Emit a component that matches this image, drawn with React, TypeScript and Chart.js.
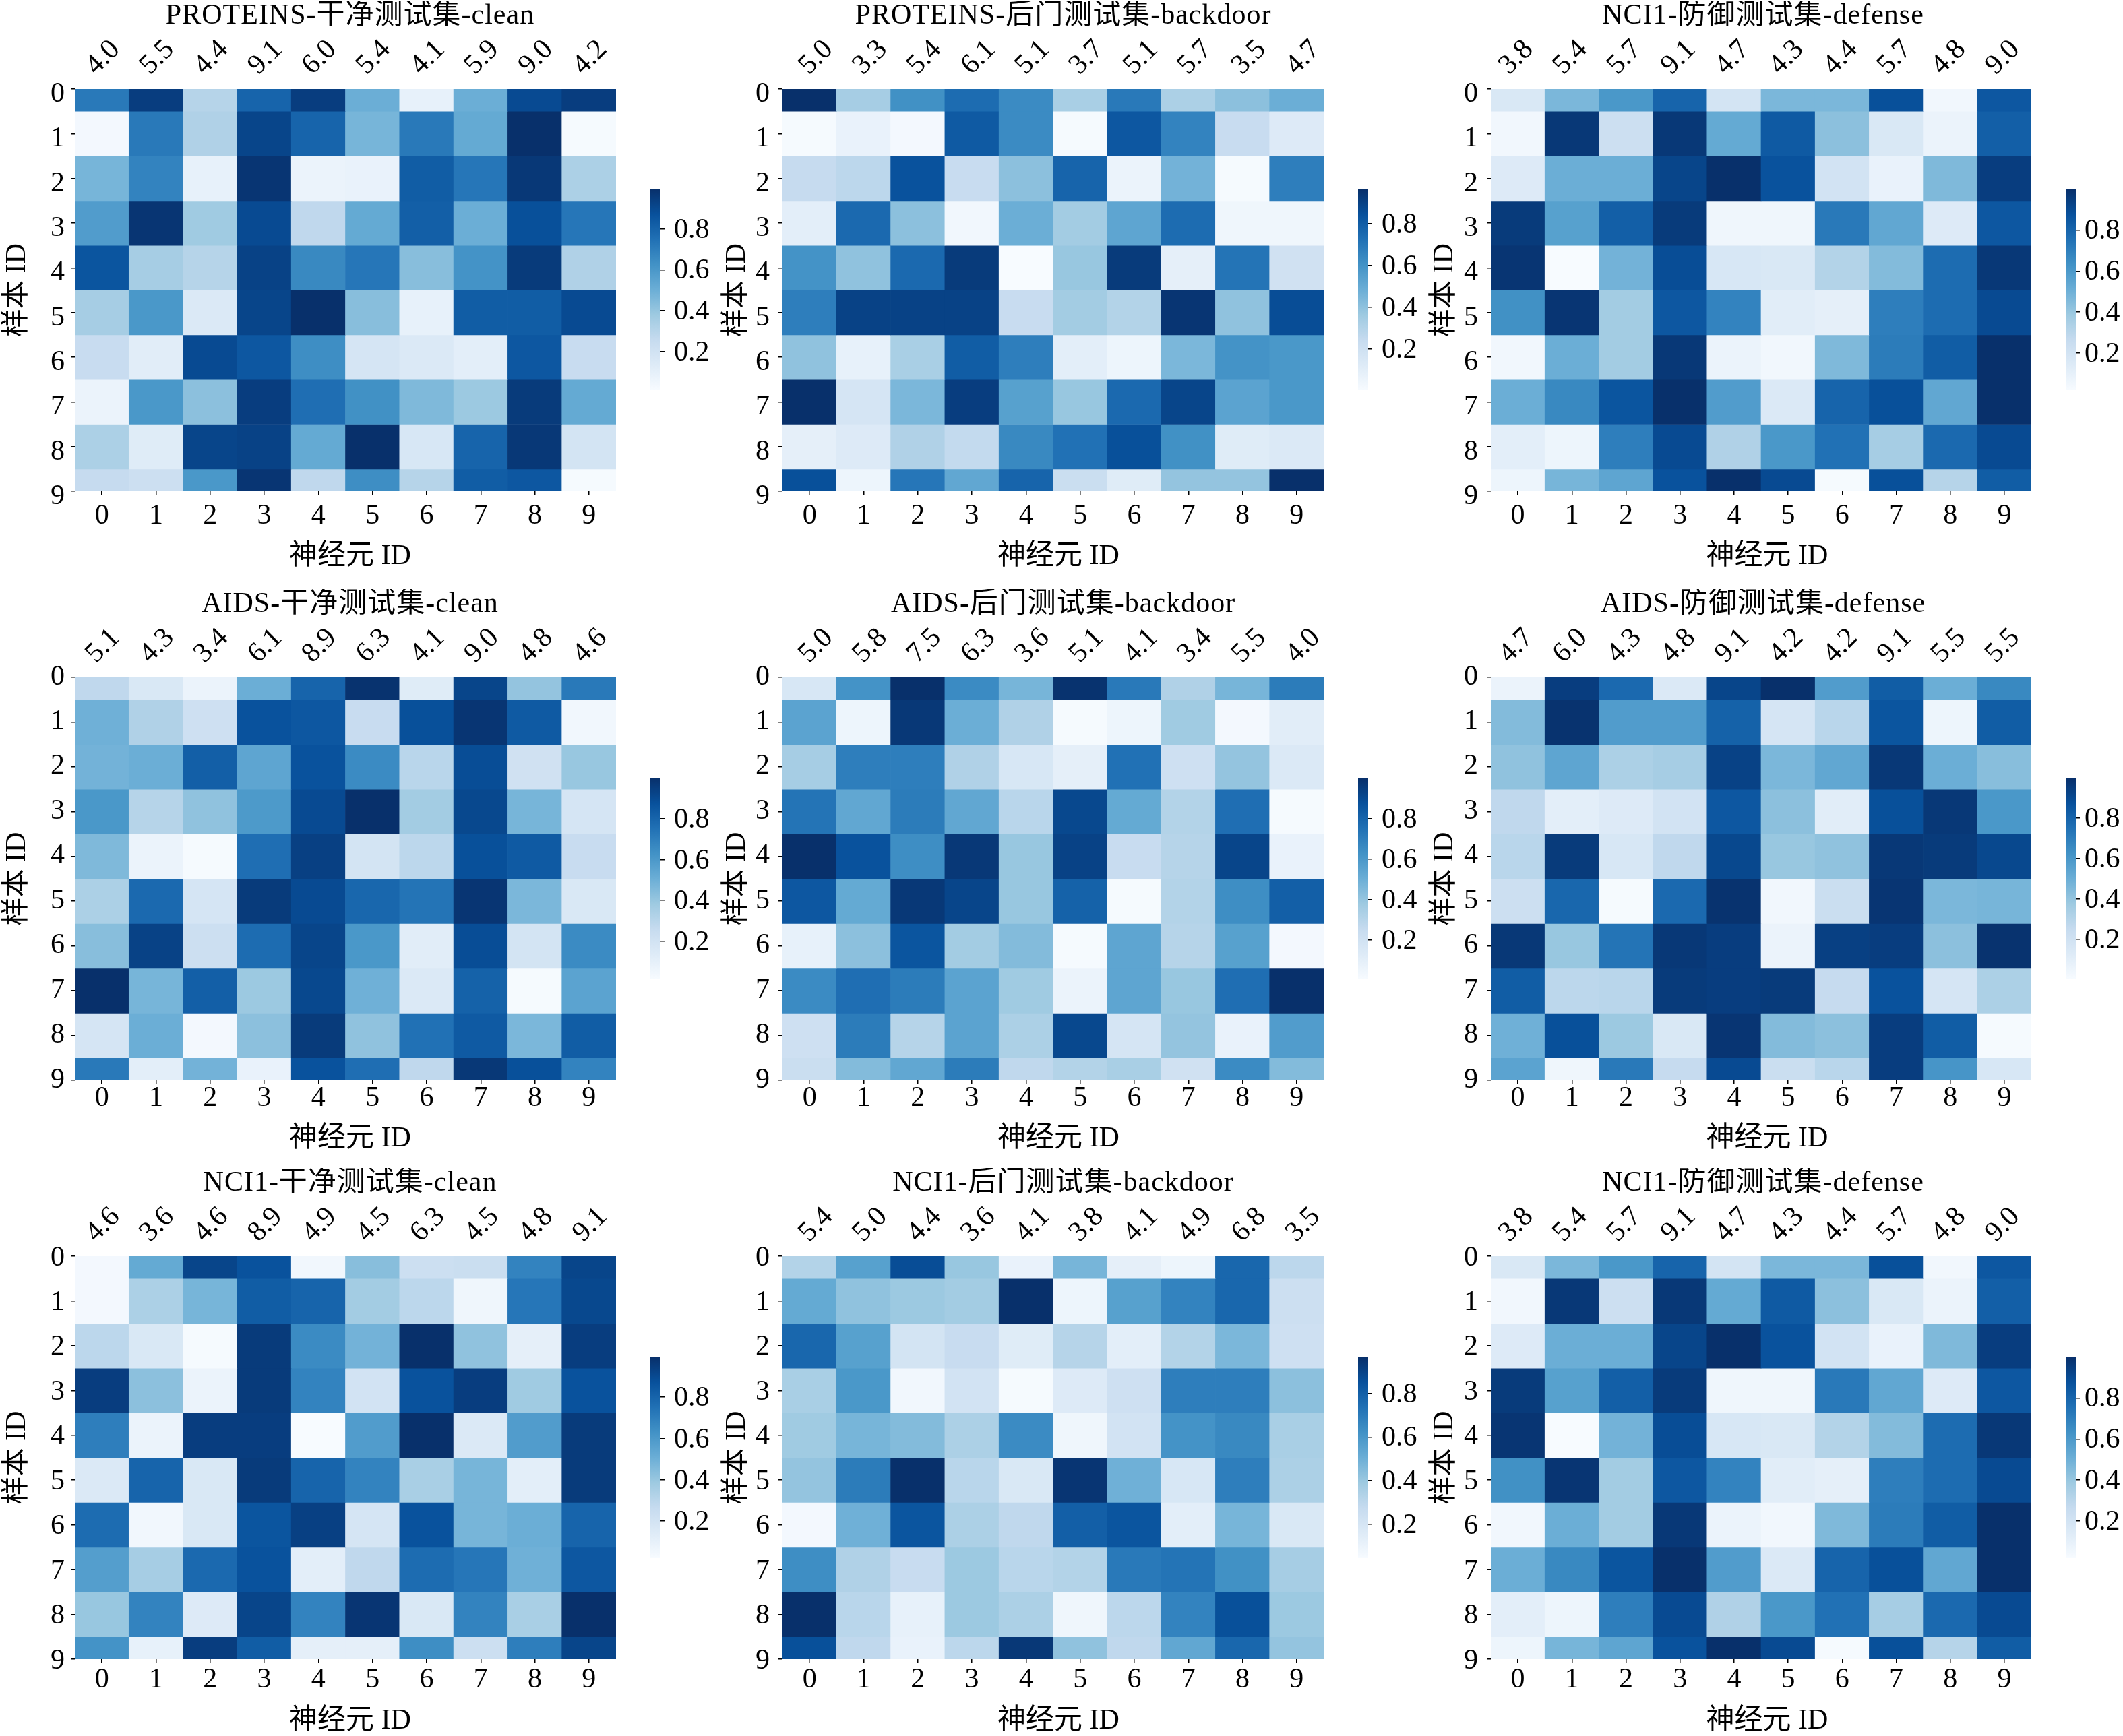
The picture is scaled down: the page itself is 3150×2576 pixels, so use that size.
import React, { useEffect, useRef } from "react";
import { Chart, registerables } from "chart.js";

Chart.register(...registerables);

const FONT = '"Liberation Serif","Noto Sans CJK SC",serif';
const BLUES = ["#f7fbff", "#deebf7", "#c6dbef", "#9ecae1", "#6baed6", "#4292c6", "#2171b5", "#08519c", "#08306b"];

const neuronIds = ["0", "1", "2", "3", "4", "5", "6", "7", "8", "9"];
const colorbarTicks = [0.2, 0.4, 0.6, 0.8];

const proteinsCleanTop = ["4.0", "5.5", "4.4", "9.1", "6.0", "5.4", "4.1", "5.9", "9.0", "4.2"];
const proteinsClean = [
  [0.72, 0.95, 0.30, 0.80, 0.95, 0.50, 0.08, 0.50, 0.90, 0.95],
  [0.02, 0.72, 0.32, 0.92, 0.80, 0.47, 0.72, 0.52, 1.00, 0.01],
  [0.47, 0.68, 0.08, 0.98, 0.06, 0.07, 0.83, 0.73, 0.97, 0.33],
  [0.58, 0.98, 0.37, 0.90, 0.27, 0.52, 0.82, 0.50, 0.88, 0.73],
  [0.86, 0.35, 0.30, 0.93, 0.66, 0.73, 0.43, 0.62, 0.96, 0.32],
  [0.35, 0.60, 0.14, 0.92, 1.00, 0.43, 0.08, 0.83, 0.83, 0.90],
  [0.24, 0.11, 0.90, 0.85, 0.64, 0.17, 0.14, 0.10, 0.85, 0.24],
  [0.06, 0.60, 0.42, 0.95, 0.76, 0.63, 0.45, 0.38, 0.96, 0.52],
  [0.33, 0.12, 0.92, 0.93, 0.52, 1.00, 0.16, 0.80, 0.97, 0.18],
  [0.25, 0.22, 0.60, 0.98, 0.27, 0.64, 0.30, 0.83, 0.85, 0.01],
];

const proteinsBackdoorTop = ["5.0", "3.3", "5.4", "6.1", "5.1", "3.7", "5.1", "5.7", "3.5", "4.7"];
const proteinsBackdoor = [
  [1.00, 0.35, 0.63, 0.77, 0.65, 0.34, 0.72, 0.33, 0.42, 0.50],
  [0.01, 0.07, 0.02, 0.84, 0.65, 0.01, 0.85, 0.68, 0.24, 0.13],
  [0.25, 0.28, 0.87, 0.24, 0.42, 0.80, 0.06, 0.48, 0.01, 0.70],
  [0.10, 0.78, 0.42, 0.03, 0.50, 0.36, 0.54, 0.77, 0.04, 0.04],
  [0.62, 0.41, 0.78, 0.96, 0.00, 0.39, 0.96, 0.09, 0.74, 0.20],
  [0.70, 0.93, 0.93, 0.93, 0.24, 0.36, 0.31, 0.98, 0.41, 0.89],
  [0.41, 0.08, 0.34, 0.83, 0.70, 0.10, 0.05, 0.46, 0.62, 0.60],
  [1.00, 0.17, 0.46, 0.95, 0.56, 0.39, 0.78, 0.92, 0.55, 0.60],
  [0.09, 0.13, 0.32, 0.26, 0.66, 0.75, 0.88, 0.63, 0.12, 0.14],
  [0.88, 0.05, 0.73, 0.53, 0.80, 0.23, 0.12, 0.40, 0.40, 1.00],
];

const nciDefenseTop = ["3.8", "5.4", "5.7", "9.1", "4.7", "4.3", "4.4", "5.7", "4.8", "9.0"];
const nciDefense = [
  [0.15, 0.46, 0.60, 0.80, 0.18, 0.46, 0.46, 0.88, 0.03, 0.85],
  [0.03, 0.97, 0.22, 0.97, 0.52, 0.84, 0.42, 0.15, 0.06, 0.82],
  [0.13, 0.50, 0.50, 0.92, 1.00, 0.87, 0.19, 0.07, 0.45, 0.95],
  [0.96, 0.56, 0.82, 0.96, 0.04, 0.04, 0.72, 0.53, 0.13, 0.85],
  [0.98, 0.00, 0.48, 0.89, 0.16, 0.15, 0.31, 0.44, 0.77, 0.97],
  [0.63, 0.98, 0.36, 0.85, 0.68, 0.11, 0.09, 0.70, 0.77, 0.90],
  [0.03, 0.50, 0.36, 0.97, 0.06, 0.03, 0.45, 0.71, 0.83, 1.00],
  [0.50, 0.66, 0.86, 1.00, 0.58, 0.14, 0.80, 0.88, 0.53, 1.00],
  [0.10, 0.05, 0.70, 0.90, 0.32, 0.60, 0.75, 0.35, 0.78, 0.90],
  [0.05, 0.47, 0.54, 0.87, 1.00, 0.90, 0.01, 0.88, 0.30, 0.83],
];

const aidsCleanTop = ["5.1", "4.3", "3.4", "6.1", "8.9", "6.3", "4.1", "9.0", "4.8", "4.6"];
const aidsClean = [
  [0.27, 0.15, 0.06, 0.50, 0.80, 0.99, 0.12, 0.92, 0.40, 0.72],
  [0.49, 0.32, 0.21, 0.87, 0.85, 0.24, 0.88, 0.98, 0.84, 0.03],
  [0.48, 0.50, 0.82, 0.54, 0.87, 0.65, 0.29, 0.89, 0.20, 0.39],
  [0.60, 0.30, 0.41, 0.59, 0.90, 1.00, 0.36, 0.91, 0.47, 0.17],
  [0.45, 0.06, 0.01, 0.76, 0.94, 0.18, 0.28, 0.88, 0.84, 0.24],
  [0.33, 0.78, 0.17, 0.96, 0.90, 0.79, 0.74, 0.98, 0.46, 0.15],
  [0.43, 0.93, 0.22, 0.77, 0.92, 0.60, 0.11, 0.89, 0.18, 0.65],
  [1.00, 0.47, 0.82, 0.38, 0.91, 0.49, 0.14, 0.81, 0.01, 0.55],
  [0.17, 0.50, 0.02, 0.42, 0.96, 0.41, 0.75, 0.84, 0.46, 0.83],
  [0.72, 0.10, 0.48, 0.07, 0.87, 0.76, 0.27, 0.97, 0.88, 0.68],
];

const aidsBackdoorTop = ["5.0", "5.8", "7.5", "6.3", "3.6", "5.1", "4.1", "3.4", "5.5", "4.0"];
const aidsBackdoor = [
  [0.16, 0.62, 1.00, 0.65, 0.47, 0.99, 0.72, 0.32, 0.47, 0.71],
  [0.55, 0.05, 0.97, 0.50, 0.32, 0.01, 0.05, 0.37, 0.02, 0.11],
  [0.35, 0.70, 0.70, 0.32, 0.16, 0.09, 0.75, 0.21, 0.40, 0.14],
  [0.74, 0.53, 0.71, 0.53, 0.29, 0.91, 0.52, 0.31, 0.76, 0.01],
  [1.00, 0.87, 0.64, 0.97, 0.39, 0.93, 0.24, 0.30, 0.92, 0.07],
  [0.85, 0.52, 0.97, 0.92, 0.39, 0.81, 0.01, 0.31, 0.64, 0.82],
  [0.08, 0.42, 0.86, 0.36, 0.44, 0.01, 0.54, 0.30, 0.56, 0.02],
  [0.65, 0.76, 0.71, 0.55, 0.37, 0.06, 0.54, 0.39, 0.76, 1.00],
  [0.21, 0.71, 0.30, 0.55, 0.33, 0.91, 0.17, 0.40, 0.07, 0.58],
  [0.23, 0.44, 0.53, 0.71, 0.27, 0.31, 0.34, 0.20, 0.65, 0.44],
];

const aidsDefenseTop = ["4.7", "6.0", "4.3", "4.8", "9.1", "4.2", "4.2", "9.1", "5.5", "5.5"];
const aidsDefense = [
  [0.06, 0.95, 0.78, 0.14, 0.92, 1.00, 0.58, 0.83, 0.50, 0.66],
  [0.44, 0.99, 0.58, 0.58, 0.81, 0.17, 0.29, 0.86, 0.05, 0.83],
  [0.41, 0.54, 0.33, 0.35, 0.93, 0.46, 0.53, 0.97, 0.50, 0.43],
  [0.27, 0.10, 0.13, 0.19, 0.85, 0.42, 0.11, 0.88, 0.97, 0.60],
  [0.29, 0.96, 0.16, 0.27, 0.91, 0.39, 0.41, 0.97, 0.96, 0.91],
  [0.22, 0.79, 0.01, 0.78, 0.99, 0.03, 0.23, 0.98, 0.46, 0.47],
  [0.97, 0.39, 0.74, 0.97, 0.95, 0.06, 0.94, 0.95, 0.42, 0.99],
  [0.83, 0.28, 0.29, 0.96, 0.95, 0.96, 0.25, 0.87, 0.17, 0.33],
  [0.49, 0.88, 0.38, 0.15, 0.98, 0.44, 0.42, 0.95, 0.83, 0.01],
  [0.55, 0.04, 0.72, 0.25, 0.90, 0.23, 0.29, 0.95, 0.61, 0.16],
];

const nciCleanTop = ["4.6", "3.6", "4.6", "8.9", "4.9", "4.5", "6.3", "4.5", "4.8", "9.1"];
const nciClean = [
  [0.02, 0.52, 0.92, 0.87, 0.03, 0.43, 0.22, 0.23, 0.68, 0.92],
  [0.02, 0.33, 0.47, 0.83, 0.80, 0.36, 0.28, 0.04, 0.73, 0.91],
  [0.28, 0.15, 0.01, 0.96, 0.65, 0.48, 1.00, 0.41, 0.09, 0.95],
  [0.95, 0.42, 0.06, 0.96, 0.68, 0.19, 0.87, 0.95, 0.37, 0.87],
  [0.70, 0.06, 0.95, 0.95, 0.00, 0.58, 1.00, 0.14, 0.58, 0.96],
  [0.14, 0.80, 0.15, 0.96, 0.80, 0.68, 0.34, 0.47, 0.10, 0.96],
  [0.77, 0.03, 0.15, 0.86, 0.94, 0.17, 0.87, 0.47, 0.50, 0.80],
  [0.57, 0.35, 0.78, 0.87, 0.10, 0.27, 0.77, 0.73, 0.49, 0.85],
  [0.39, 0.68, 0.13, 0.92, 0.68, 0.98, 0.15, 0.68, 0.34, 1.00],
  [0.62, 0.08, 0.95, 0.83, 0.09, 0.09, 0.64, 0.22, 0.70, 0.92],
];

const nciBackdoorTop = ["5.4", "5.0", "4.4", "3.6", "4.1", "3.8", "4.1", "4.9", "6.8", "3.5"];
const nciBackdoor = [
  [0.31, 0.56, 0.89, 0.39, 0.07, 0.47, 0.09, 0.05, 0.79, 0.28],
  [0.52, 0.41, 0.38, 0.36, 1.00, 0.05, 0.56, 0.68, 0.79, 0.22],
  [0.79, 0.56, 0.18, 0.24, 0.12, 0.30, 0.10, 0.31, 0.46, 0.21],
  [0.34, 0.60, 0.03, 0.19, 0.01, 0.13, 0.21, 0.70, 0.70, 0.42],
  [0.37, 0.47, 0.44, 0.33, 0.65, 0.04, 0.19, 0.62, 0.66, 0.34],
  [0.40, 0.71, 1.00, 0.29, 0.15, 0.98, 0.49, 0.16, 0.70, 0.33],
  [0.02, 0.49, 0.86, 0.33, 0.27, 0.82, 0.86, 0.10, 0.47, 0.15],
  [0.64, 0.32, 0.24, 0.38, 0.29, 0.31, 0.72, 0.74, 0.63, 0.35],
  [1.00, 0.29, 0.08, 0.38, 0.33, 0.04, 0.28, 0.68, 0.88, 0.38],
  [0.88, 0.27, 0.07, 0.28, 0.97, 0.41, 0.27, 0.53, 0.79, 0.40],
];

// layout per column / row (pixels)
const COLS = [
  { plotX: 111, plotW: 803, titleShift: 7, yTitlePad: 0, yTickPad: 9, topShift: 19, xTitleShift: 7, barX: 965, barPad: 14 },
  { plotX: 1161, plotW: 803, titleShift: 15, yTitlePad: 18, yTickPad: 13, topShift: 27, xTitleShift: 8, barX: 2015, barPad: 14 },
  { plotX: 2212, plotW: 802, titleShift: 3, yTitlePad: 17, yTickPad: 13, topShift: 15, xTitleShift: 9, barX: 3065, barPad: 7 },
];
const ROWS = [
  { plotY: 132, plotH: 597, bottomH: 122, xTickPad: 6, yLabelOffset: 8, barY: 281, barH: 298 },
  { plotY: 1005, plotH: 598, bottomH: 112, xTickPad: -4.5, yLabelOffset: -0.5, barY: 1155, barH: 298 },
  { plotY: 1864, plotH: 598, bottomH: 117, xTickPad: 0, yLabelOffset: 2.5, barY: 2014, barH: 298 },
];
const RIGHT_PAD = 30;

const PANELS = [
  { title: "PROTEINS-干净测试集-clean", top: proteinsCleanTop, rows: proteinsClean, col: 0, row: 0, vmin: 0.011, vmax: 0.994 },
  { title: "PROTEINS-后门测试集-backdoor", top: proteinsBackdoorTop, rows: proteinsBackdoor, col: 1, row: 0, vmin: 0.004, vmax: 0.965 },
  { title: "NCI1-防御测试集-defense", top: nciDefenseTop, rows: nciDefense, col: 2, row: 0, vmin: 0.02, vmax: 0.998 },
  { title: "AIDS-干净测试集-clean", top: aidsCleanTop, rows: aidsClean, col: 0, row: 1, vmin: 0.014, vmax: 0.999 },
  { title: "AIDS-后门测试集-backdoor", top: aidsBackdoorTop, rows: aidsBackdoor, col: 1, row: 1, vmin: 0.007, vmax: 0.998 },
  { title: "AIDS-防御测试集-defense", top: aidsDefenseTop, rows: aidsDefense, col: 2, row: 1, vmin: 0.002, vmax: 0.998 },
  { title: "NCI1-干净测试集-clean", top: nciCleanTop, rows: nciClean, col: 0, row: 2, vmin: 0.021, vmax: 0.993 },
  { title: "NCI1-后门测试集-backdoor", top: nciBackdoorTop, rows: nciBackdoor, col: 1, row: 2, vmin: 0.044, vmax: 0.966 },
  { title: "NCI1-防御测试集-defense", top: nciDefenseTop, rows: nciDefense, col: 2, row: 2, vmin: 0.02, vmax: 0.998 },
];

function hexToRgb(h: string) {
  return [parseInt(h.slice(1, 3), 16), parseInt(h.slice(3, 5), 16), parseInt(h.slice(5, 7), 16)];
}
function blues(t: number) {
  const c = Math.max(0, Math.min(1, t)) * (BLUES.length - 1);
  const i = Math.min(Math.floor(c), BLUES.length - 2);
  const f = c - i;
  const a = hexToRgb(BLUES[i]);
  const b = hexToRgb(BLUES[i + 1]);
  return `rgb(${a.map((v, k) => Math.round(v + (b[k] - v) * f)).join(",")})`;
}

const TOP_H = 131;
const TITLE_H = 41;
const TICK_FONT = { family: FONT, size: 42, weight: "normal" as const };

function fixSize(size: number, prop: "width" | "height") {
  return (s: any) => {
    s[prop] = size;
    s.paddingLeft = s.paddingRight = s.paddingTop = s.paddingBottom = 0;
  };
}

function Heatmap({ panel }: { panel: (typeof PANELS)[number] }) {
  const ref = useRef<HTMLCanvasElement>(null);
  const col = COLS[panel.col];
  const row = ROWS[panel.row];
  useEffect(() => {
    const chart = new Chart(ref.current!, {
      type: "bar",
      data: {
        labels: neuronIds,
        datasets: panel.rows.map((vals, r) => ({
          data: vals.map(() => [r - 0.5, r + 0.5]) as any,
          backgroundColor: vals.map((v) => blues(v)),
          borderWidth: 0,
          grouped: false,
          barPercentage: 1,
          categoryPercentage: 1,
          xAxisID: "x",
          yAxisID: "y",
        })),
      },
      plugins: [
        {
          id: "tweaks",
          beforeDraw(c: any) {
            if (c.$tweaked) return;
            c.$tweaked = true;
            const tb = c.titleBlock;
            const draw = tb.draw;
            tb.draw = function () {
              const g = this.ctx;
              g.save();
              g.letterSpacing = "1px";
              g.translate(55 + col.titleShift, 2);
              draw.call(this);
              g.restore();
            };
            const sx = c.scales.x;
            const dt = sx.drawTitle;
            sx.drawTitle = function () {
              const g = this.ctx;
              g.save();
              g.translate(col.xTitleShift, 0);
              dt.call(this);
              g.restore();
            };
          },
        },
      ],
      options: {
        responsive: false,
        animation: false,
        events: [],
        layout: { padding: { left: 0, top: 0, right: RIGHT_PAD, bottom: 0 } },
        plugins: {
          legend: { display: false },
          tooltip: { enabled: false },
          title: {
            display: true,
            text: panel.title,
            color: "#000",
            padding: 0,
            font: { family: FONT, size: 42, weight: "normal", lineHeight: TITLE_H / 42 },
          },
        },
        scales: {
          x: {
            type: "category",
            position: "bottom",
            offset: true,
            grid: { offset: false, drawOnChartArea: false, drawTicks: true, tickLength: 6, color: "#000", lineWidth: 1.5 },
            border: { display: false },
            ticks: { color: "#000", font: TICK_FONT, padding: row.xTickPad, autoSkip: false, maxRotation: 0, minRotation: 0 },
            title: { display: true, text: "神经元 ID", color: "#000", font: TICK_FONT, padding: 0 },
            afterFit: fixSize(row.bottomH, "height"),
          },
          x2: {
            type: "category",
            position: "top",
            labels: panel.top,
            offset: true,
            grid: { display: false, drawTicks: false },
            border: { display: false },
            ticks: { color: "#000", font: TICK_FONT, padding: 10, autoSkip: false, maxRotation: 45, minRotation: 45, labelOffset: col.topShift },
            afterFit: fixSize(TOP_H - TITLE_H, "height"),
          },
          y: {
            type: "linear",
            position: "left",
            min: 0,
            max: 9,
            reverse: true,
            grid: { drawOnChartArea: false, drawTicks: true, tickLength: 6, color: "#000", lineWidth: 1.5 },
            border: { display: false },
            ticks: { color: "#000", font: TICK_FONT, padding: col.yTickPad, stepSize: 1, autoSkip: false, labelOffset: row.yLabelOffset },
            title: { display: true, text: "样本 ID", color: "#000", font: TICK_FONT, padding: { top: col.yTitlePad, bottom: 0 } },
            afterFit: fixSize(110, "width"),
          },
        },
      },
    } as any);
    return () => chart.destroy();
  }, []);
  const w = 110 + col.plotW + RIGHT_PAD;
  const h = TOP_H + row.plotH + row.bottomH;
  return (
    <canvas
      ref={ref}
      width={w}
      height={h}
      style={{ position: "absolute", left: col.plotX - 110, top: row.plotY - TOP_H, width: w, height: h }}
    />
  );
}

function Colorbar({ panel }: { panel: (typeof PANELS)[number] }) {
  const ref = useRef<HTMLCanvasElement>(null);
  const col = COLS[panel.col];
  const row = ROWS[panel.row];
  useEffect(() => {
    const chart = new Chart(ref.current!, {
      type: "bar",
      data: {
        labels: ["colorbar"],
        datasets: [
          {
            data: [[panel.vmin, panel.vmax]] as any,
            borderWidth: 0,
            barPercentage: 1,
            categoryPercentage: 1,
            backgroundColor: (ctx: any) => {
              const area = ctx.chart.chartArea;
              if (!area) return BLUES[4];
              const g = ctx.chart.ctx.createLinearGradient(0, area.bottom, 0, area.top);
              BLUES.forEach((c, i) => g.addColorStop(i / (BLUES.length - 1), c));
              return g;
            },
          },
        ],
      },
      options: {
        responsive: false,
        animation: false,
        events: [],
        layout: { padding: { left: 0, top: 30, right: 0, bottom: 30 } },
        plugins: { legend: { display: false }, tooltip: { enabled: false } },
        scales: {
          x: { display: false, offset: true },
          y: {
            type: "linear",
            position: "right",
            min: panel.vmin,
            max: panel.vmax,
            grid: { drawOnChartArea: false, drawTicks: true, tickLength: 6, color: "#000", lineWidth: 1.5 },
            border: { display: false },
            afterBuildTicks: (axis: any) => {
              axis.ticks = colorbarTicks.map((value) => ({ value }));
            },
            ticks: {
              color: "#000",
              font: TICK_FONT,
              padding: col.barPad,
              autoSkip: false,
              labelOffset: 2,
              callback: (v: any) => Number(v).toFixed(1),
            },
            afterFit: fixSize(105, "width"),
          },
        },
      },
    } as any);
    return () => chart.destroy();
  }, []);
  const w = 120;
  const h = row.barH + 60;
  return (
    <canvas
      ref={ref}
      width={w}
      height={h}
      style={{ position: "absolute", left: col.barX, top: row.barY - 30, width: w, height: h }}
    />
  );
}

export default function App() {
  return (
    <div style={{ position: "absolute", left: 0, top: 0, width: 3150, height: 2576, overflow: "hidden", background: "#fff" }}>
      {PANELS.map((p) => (
        <React.Fragment key={p.title + p.row}>
          <Heatmap panel={p} />
          <Colorbar panel={p} />
        </React.Fragment>
      ))}
    </div>
  );
}
